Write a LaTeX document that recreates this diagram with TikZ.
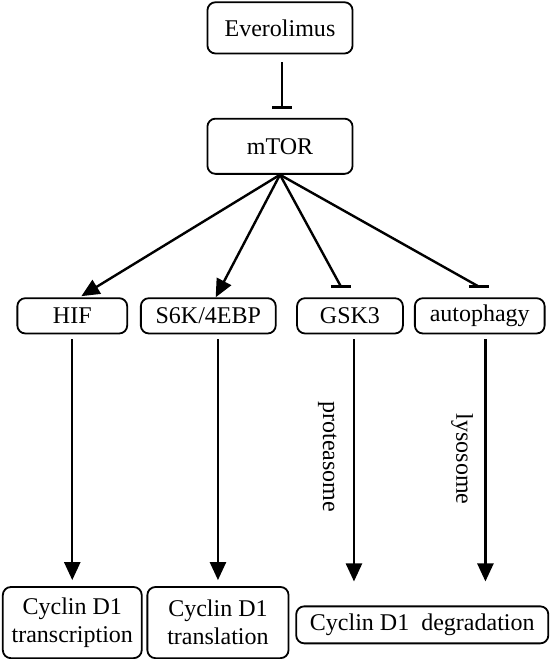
\documentclass[tikz,border=0pt]{standalone}
\usepackage{fontspec}
\setmainfont{Liberation Serif}
\usetikzlibrary{arrows.meta}
\usetikzlibrary{calc}

\begin{document}
\begin{tikzpicture}[>/.tip={Triangle[length=9pt,width=8pt]},
	box/.style={draw,line width=0.9pt,rounded corners=4pt,inner sep=1pt,align=center,font=\fontsize{12}{14}\selectfont},
	link/.style={line width=1.2pt}]
	\useasboundingbox (0,0) rectangle (9.70,-11.58);

	\draw (4.92,-0.49) node (evero) [box,minimum width=2.55cm,minimum height=0.90cm] {Everolimus};
	\draw (4.92,-2.57) node (mTOR) [box,minimum width=2.55cm,minimum height=0.97cm] {mTOR};

	\draw (1.27,-5.55) node (HIF) [box,minimum width=1.93cm,minimum height=0.62cm] {HIF};
	\draw (3.66,-5.55) node (S6K) [box,minimum width=2.37cm,minimum height=0.62cm] {S6K/4EBP};
	\draw (6.15,-5.55) node (GSK) [box,minimum width=1.86cm,minimum height=0.62cm] {GSK3};
	\draw (8.43,-5.55) node (autoph) [box,minimum width=2.28cm,minimum height=0.62cm] {autophagy};

	\draw (1.27,-10.94) node (trans) [box,minimum width=2.44cm,minimum height=1.25cm] {Cyclin D1\\transcription};
	\draw (3.83,-10.94) node (transl) [box,minimum width=2.48cm,minimum height=1.25cm] {Cyclin D1\\translation};
	\draw (7.42,-10.98) node (degr) [box,minimum width=4.43cm,minimum height=0.65cm] {Cyclin D1\ \ degradation};

	% inhibition: line plus flat bar
	\draw[link] ($(evero.south)+(0.04,-0.14)$) coordinate (e1) -- ($(mTOR.north)+(0.04,0.18)$) coordinate (ebar);
	\draw[link] ($(ebar)+(-5pt,0)$) -- ($(ebar)+(5pt,0)$);

	\draw[link,->] (mTOR.south) -- ($(HIF.north)+(0.16,0.02)$);
	\draw[link,->] (mTOR.south) -- ($(S6K.north)+(0.13,0)$);
	\draw[link] (mTOR.south) -- ($(GSK.north)+(-0.16,0.19)$) coordinate (gbar);
	\draw[link] ($(gbar)+(-5pt,0)$) -- ($(gbar)+(5pt,0)$);
	\draw[link] (mTOR.south) -- ($(autoph.north)+(-0.02,0.19)$) coordinate (abar);
	\draw[link] ($(abar)+(-5pt,0)$) -- ($(abar)+(5pt,0)$);

	\draw[link,->,shorten >=3pt,shorten <=2.5pt] (HIF.south) -- (HIF.south |- trans.north);
	\draw[link,->,shorten >=3pt,shorten <=2.5pt] (transl.north |- S6K.south) -- (transl.north);
	\draw[link,->,shorten >=12pt,shorten <=2.5pt] ($(GSK.south)+(0.07,0)$) coordinate (g1) -- (g1 |- degr.north);
	\draw[link,->,shorten >=12pt,shorten <=2.5pt] ($(autoph.south)+(0.1,0)$) coordinate (a1) -- (a1 |- degr.north);

	\draw (5.75,-8.03) node (prot) [rotate=-90,font=\fontsize{12}{14}\selectfont] {proteasome};
	\draw (8.12,-8.07) node (lyso) [rotate=-90,font=\fontsize{12}{14}\selectfont] {lysosome};
\end{tikzpicture}
\end{document}
